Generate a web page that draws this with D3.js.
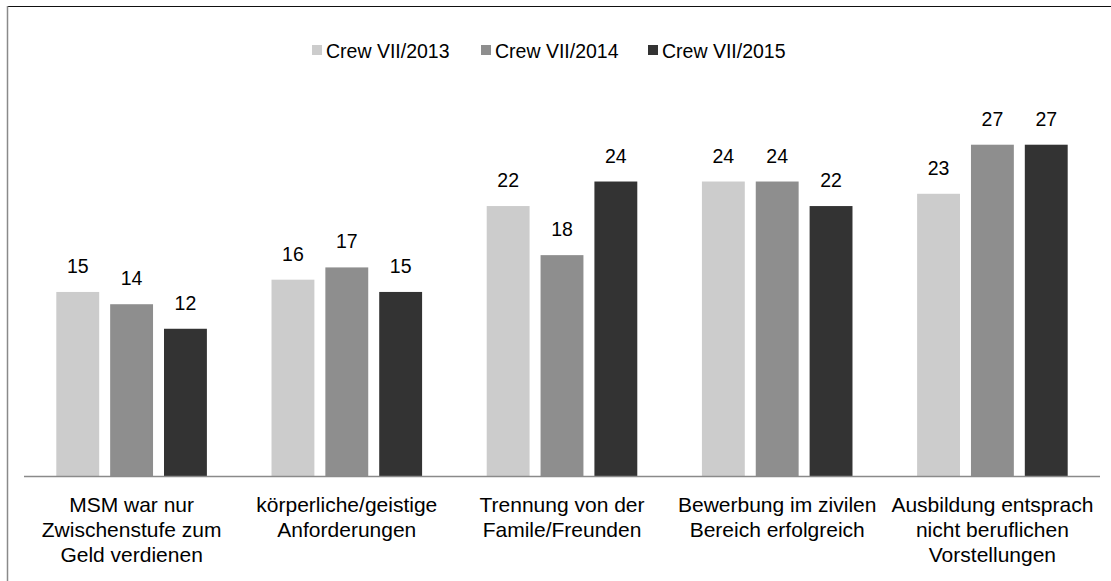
<!DOCTYPE html>
<html>
<head>
<meta charset="utf-8">
<script src="https://cdn.jsdelivr.net/npm/d3@7"></script>
<style>
  html, body { margin: 0; padding: 0; background: #fff; }
  svg { display: block; font-family: "Liberation Sans", Arial, sans-serif; }
</style>
</head>
<body>
<svg id="chart" width="1111" height="581"></svg>
<script>
// Categories (each entry is a list of label lines)
const categories = [
  ["MSM war nur", "Zwischenstufe zum", "Geld verdienen"],
  ["körperliche/geistige", "Anforderungen"],
  ["Trennung von der", "Famile/Freunden"],
  ["Bewerbung im zivilen", "Bereich erfolgreich"],
  ["Ausbildung entsprach", "nicht beruflichen", "Vorstellungen"]
];
const series = ["Crew VII/2013", "Crew VII/2014", "Crew VII/2015"];
const values2013 = [15, 16, 22, 24, 23];
const values2014 = [14, 17, 18, 24, 27];
const values2015 = [12, 15, 24, 22, 27];
const seriesColors = ["#cccccc", "#8e8e8e", "#333333"];

const seriesValues = [values2013, values2014, values2015];
const catKeys = categories.map(c => c.join(" "));

const svg = d3.select("#chart");

// Frame lines
svg.append("line").attr("x1", 7).attr("x2", 1111).attr("y1", 6.5).attr("y2", 6.5)
  .attr("stroke", "#111").attr("stroke-width", 1.2);
svg.append("line").attr("x1", 7.5).attr("x2", 7.5).attr("y1", 6).attr("y2", 581)
  .attr("stroke", "#8a8a8a").attr("stroke-width", 1.5);

const x0 = d3.scaleBand().domain(catKeys).range([24, 1100]).paddingInner(0).paddingOuter(0);
const x1 = d3.scaleBand().domain(series).range([0, x0.bandwidth()])
  .paddingInner(11 / 54).paddingOuter(0.6);
const y = d3.scaleLinear().domain([0, 30]).range([476, 476 - 30 * 12.27]);

const color = d3.scaleOrdinal().domain(series).range(seriesColors);

// Bars
const groups = svg.append("g").selectAll("g")
  .data(catKeys)
  .join("g")
  .attr("transform", d => `translate(${x0(d)},0)`);

groups.selectAll("rect")
  .data((d, i) => series.map((s, j) => ({ s, v: seriesValues[j][i] })))
  .join("rect")
  .attr("x", d => x1(d.s))
  .attr("width", x1.bandwidth())
  .attr("y", d => y(d.v))
  .attr("height", d => y(0) - y(d.v))
  .attr("fill", d => color(d.s));

// Value labels
groups.selectAll("text.val")
  .data((d, i) => series.map((s, j) => ({ s, v: seriesValues[j][i] })))
  .join("text")
  .attr("class", "val")
  .attr("x", d => x1(d.s) + x1.bandwidth() / 2)
  .attr("y", d => y(d.v) - 19)
  .attr("text-anchor", "middle")
  .attr("font-size", 19.5)
  .attr("fill", "#000")
  .text(d => d.v);

// Baseline
svg.append("line").attr("x1", 24).attr("x2", 1100)
  .attr("y1", y(0) + 0.5).attr("y2", y(0) + 0.5)
  .attr("stroke", "#8a8a8a").attr("stroke-width", 1.5);

// Category labels
const catLabels = svg.append("g").selectAll("text")
  .data(categories)
  .join("text")
  .attr("text-anchor", "middle")
  .attr("font-size", 21)
  .attr("fill", "#000")
  .attr("transform", (d, i) => `translate(${x0(catKeys[i]) + x0.bandwidth() / 2},511.5)`);
catLabels.selectAll("tspan")
  .data(d => d)
  .join("tspan")
  .attr("x", 0)
  .attr("y", (d, i) => i * 25)
  .text(d => d);

// Legend
const legendX = [312, 481, 648];
const legend = svg.append("g").selectAll("g")
  .data(series)
  .join("g")
  .attr("transform", (d, i) => `translate(${legendX[i]},45)`);
legend.append("rect").attr("width", 10).attr("height", 10).attr("fill", d => color(d));
legend.append("text").attr("x", 14).attr("y", 13.3)
  .attr("font-size", 19.5).attr("fill", "#000").text(d => d);
</script>
</body>
</html>
